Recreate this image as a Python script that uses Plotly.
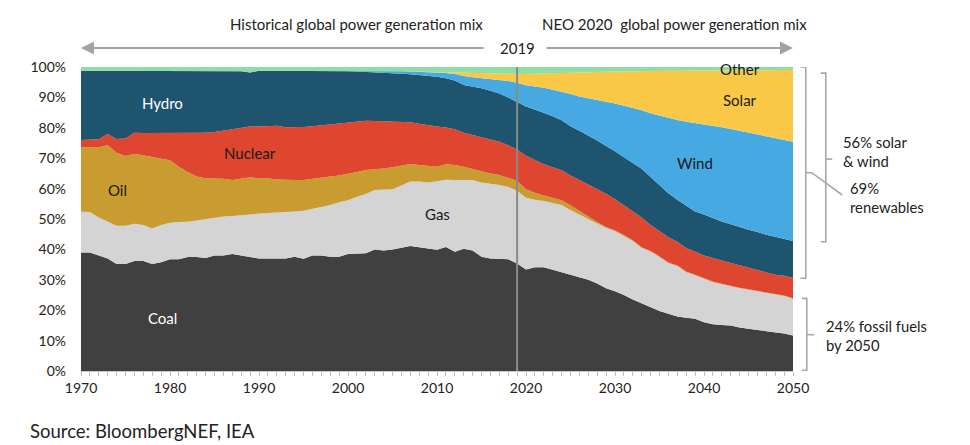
import plotly.graph_objects as go

years = list(range(1970, 2051))

coal = [39.0, 39.0, 38.0, 37.0, 35.2, 35.2, 36.2, 36.2, 35.2, 35.8,
        36.8, 36.8, 37.5, 37.5, 37.2, 38.0, 38.0, 38.5, 38.0, 37.5,
        37.0, 37.0, 37.0, 37.0, 37.6, 36.9, 38.0, 38.0, 37.6, 37.6,
        38.5, 38.7, 38.7, 40.0, 39.6, 40.0, 40.5, 41.1, 40.7, 40.2,
        39.9, 40.8, 39.2, 40.2, 39.6, 37.6, 37.0, 36.9, 36.8, 35.4,
        33.4, 34.1, 34.1, 33.3, 32.5, 31.8, 31.0, 30.0, 28.8, 27.2,
        26.2, 25.0, 23.5, 22.2, 20.8, 19.7, 18.8, 17.9, 17.5, 17.2,
        16.0, 15.4, 15.1, 15.0, 14.3, 14.0, 13.5, 13.1, 12.8, 12.3,
        11.7]

gas = [13.4, 13.3, 12.5, 12.2, 12.6, 12.6, 12.2, 11.8, 11.7, 12.2,
       12.0, 12.2, 11.6, 12.0, 12.7, 12.5, 12.8, 12.5, 13.3, 14.1,
       14.9, 15.0, 15.1, 15.2, 14.9, 15.8, 15.3, 16.0, 17.0, 17.9,
       17.7, 18.6, 19.5, 19.5, 20.0, 19.8, 20.5, 21.2, 21.6, 21.8,
       22.5, 22.1, 23.6, 22.7, 23.2, 24.4, 24.6, 24.3, 23.7, 23.9,
       23.6, 22.2, 21.8, 21.9, 22.1, 21.2, 20.5, 19.9, 19.7, 19.8,
       19.8, 19.5, 19.3, 18.3, 18.5, 17.8, 16.7, 16.6, 15.0, 14.3,
       14.3, 13.8, 13.4, 12.8, 12.9, 12.7, 12.7, 12.6, 12.4, 12.4,
       12.1]

oil = [21.1, 21.2, 23.1, 25.1, 24.0, 22.9, 23.0, 23.0, 23.4, 21.8,
       20.5, 18.2, 16.4, 14.5, 13.5, 12.9, 12.4, 11.8, 11.9, 12.1,
       11.5, 11.4, 10.9, 10.6, 10.3, 10.1, 9.9, 9.8, 9.4, 8.8,
       8.6, 8.2, 7.9, 6.8, 7.0, 7.2, 6.5, 5.8, 5.5, 5.4,
       4.8, 5.1, 5.0, 4.3, 3.7, 3.6, 3.4, 3.3, 3.1, 3.3,
       2.8, 2.3, 1.8, 1.8, 1.6, 1.5, 1.1, 0.8, 0.5, 0.4,
       0.3, 0.2, 0.2, 0.2, 0.2, 0.2, 0.2, 0.2, 0.2, 0.2,
       0.2, 0.2, 0.2, 0.2, 0.2, 0.2, 0.1, 0.1, 0.1, 0.1,
       0.1]

nuclear = [2.5, 2.5, 2.6, 3.7, 4.5, 5.8, 7.0, 7.3, 8.0, 8.5,
           9.0, 11.1, 12.8, 14.3, 15.0, 15.2, 15.8, 16.8, 16.8, 16.7,
           17.0, 17.2, 17.7, 17.4, 17.4, 17.5, 17.3, 17.0, 17.0, 16.9,
           16.7, 16.4, 16.2, 15.9, 15.5, 15.0, 14.5, 13.7, 13.5, 13.4,
           13.2, 12.1, 11.7, 11.2, 11.1, 11.2, 11.2, 10.9, 10.7, 10.3,
           11.0, 10.9, 10.3, 10.0, 9.8, 9.8, 10.2, 10.6, 10.8, 10.9,
           10.2, 9.8, 9.3, 9.8, 8.5, 8.3, 8.3, 7.8, 7.8, 7.5,
           7.5, 7.8, 7.6, 7.5, 7.4, 7.1, 6.9, 6.6, 6.4, 6.5,
           6.8]

hydro = [22.8, 22.8, 22.6, 20.8, 22.5, 22.3, 20.4, 20.5, 20.5, 20.5,
         20.5, 20.5, 20.5, 20.5, 20.4, 20.2, 19.8, 19.2, 18.6, 17.8,
         18.4, 18.2, 18.1, 18.6, 18.6, 18.5, 18.3, 18.0, 17.8, 17.6,
         17.1, 16.6, 16.1, 16.1, 16.1, 16.0, 15.8, 15.8, 16.1, 16.4,
         16.4, 16.2, 16.1, 15.7, 16.0, 16.2, 16.0, 15.9, 15.7, 15.7,
         16.2, 16.5, 17.0, 16.8, 16.5, 16.2, 16.2, 16.2, 16.0, 15.7,
         15.8, 15.8, 16.0, 16.0, 15.8, 15.0, 14.5, 13.8, 13.8, 13.3,
         13.5, 13.1, 12.9, 12.8, 12.5, 12.5, 12.5, 12.4, 12.5, 12.2,
         12.1]

wind = [0.0] * 30 + [
        0.2, 0.3, 0.4, 0.4, 0.5, 0.6, 0.8, 0.9, 1.0, 1.1,
        1.4, 1.7, 2.1, 2.9, 3.0, 3.3, 4.0, 4.6, 5.4, 6.2,
        7.0, 7.6, 8.2, 8.7, 9.4, 10.6, 11.3, 12.3, 13.4, 14.6,
        15.7, 17.0, 18.2, 19.3, 21.0, 23.0, 24.8, 26.3, 27.7, 29.1,
        29.7, 30.5, 31.0, 31.3, 31.7, 32.0, 32.1, 32.4, 32.4, 32.5,
        32.6]

solar = [0.0] * 38 + [
         0.1, 0.1,
         0.2, 0.3, 0.5, 1.1, 1.4, 1.6, 1.6, 1.8, 2.3, 2.9,
         3.7, 4.2, 4.7, 5.4, 6.1, 6.9, 7.8, 8.4, 9.1, 9.8,
         10.5, 11.2, 12.1, 12.8, 13.9, 14.7, 15.5, 16.2, 16.8, 17.3,
         17.7, 18.1, 18.7, 19.4, 20.0, 20.5, 21.2, 21.8, 22.4, 23.0,
         23.6]

other = [1.2] * 18 + [1.4, 1.8] + [1.2] * 13 + [
         1.3, 1.3, 1.4, 1.4, 1.5, 1.5, 1.6,
         1.6, 1.7, 1.8, 1.9, 2.0, 2.1, 2.2, 2.3, 2.3, 2.3,
         2.3, 2.2, 2.1, 2.1, 2.0, 2.0, 1.9, 1.8, 1.7, 1.6,
         1.5, 1.5, 1.4, 1.4, 1.3, 1.3, 1.2, 1.2, 1.2, 1.1,
         1.1, 1.1, 1.1, 1.0, 1.0, 1.0, 1.0, 1.0, 1.0, 1.0,
         1.0]

series = [
    ("Coal", coal, "#404040"),
    ("Gas", gas, "#d4d4d4"),
    ("Oil", oil, "#c89c30"),
    ("Nuclear", nuclear, "#df4630"),
    ("Hydro", hydro, "#1f546f"),
    ("Wind", wind, "#47a9e1"),
    ("Solar", solar, "#f8c846"),
    ("Other", other, "#8fdca5"),
]

# labels placed inside areas: (text, year, percent, colour)
area_labels = [
    ("Hydro", 1979.2, 88.2, "white"),
    ("Nuclear", 1989.0, 71.7, "#1a1a1a"),
    ("Oil", 1974.1, 59.5, "#1a1a1a"),
    ("Gas", 2010.1, 51.6, "#1a1a1a"),
    ("Coal", 1979.2, 17.4, "white"),
    ("Wind", 2039.0, 68.4, "#1a1a1a"),
    ("Solar", 2044.1, 89.1, "#1a1a1a"),
    ("Other", 2044.1, 99.3, "#1a1a1a"),
]

FONT = "Lato, 'Open Sans', sans-serif"
TXT = "#222222"

fig = go.Figure()
for name, vals, col in series:
    fig.add_trace(go.Scatter(
        x=years, y=vals, name=name, mode="lines", stackgroup="one",
        line=dict(width=0, color=col), fillcolor=col, hoverinfo="skip"))

# page offset (body margin) and plot geometry in window pixels
OFF = 8
L, R, T, B = 80.5, 792.7, 67.0, 371.0


def xp(px):
    return (px - L) / (R - L)


def yp(py):
    return (B - py) / (B - T)


def note(x, y, text, size, xanchor="center", xref="paper"):
    return dict(x=x, y=y, xref=xref, yref="paper", text=text, showarrow=False,
                xanchor=xanchor, yanchor="middle", align="left",
                font=dict(size=size, color=TXT, family=FONT))


annotations = []
for text, x, y, col in area_labels:
    annotations.append(dict(x=x, y=y, xref="x", yref="y", text=text, showarrow=False,
                            xanchor="center", yanchor="middle",
                            font=dict(size=15, color=col, family=FONT)))

annotations += [
    note(xp(356.5), yp(24), "Historical global power generation mix", 15),
    note(xp(674), yp(24), "NEO 2020  global power generation mix", 15),
    note(2019, yp(48), "2019", 15, xref="x"),
    dict(x=1970, y=yp(48), xref="x", yref="paper", text="", showarrow=True,
         ax=404, ay=0, axref="pixel", ayref="pixel", arrowhead=2, arrowsize=1.3,
         arrowwidth=2, arrowcolor="#a3a3a3"),
    dict(x=2050, y=yp(48), xref="x", yref="paper", text="", showarrow=True,
         ax=-248, ay=0, axref="pixel", ayref="pixel", arrowhead=2, arrowsize=1.3,
         arrowwidth=2, arrowcolor="#a3a3a3"),
    note(xp(841), yp(151), "56% solar<br>& wind", 14.8, xanchor="left"),
    note(xp(848), yp(197), "69%<br>renewables", 14.8, xanchor="left"),
    note(xp(824), yp(335.5), "24% fossil fuels<br>by 2050", 14.8, xanchor="left"),
    note(xp(27), yp(431), "Source: BloombergNEF, IEA", 18.5, xanchor="left"),
]

# bracket extents from 2050 data
fossil50 = coal[-1] + gas[-1] + oil[-1]
nonren50 = fossil50 + nuclear[-1]
hyd50 = nonren50 + hydro[-1]
sw50 = hyd50 + wind[-1] + solar[-1]

BR = "#a8a8a8"


def bracket(x_in, x_out, y0, y1):
    return f"M {xp(x_in)},{y0} L {xp(x_out)},{y0} L {xp(x_out)},{y1} L {xp(x_in)},{y1}"


mid_sw = (sw50 + hyd50) / 2 - 1.2
shapes = [
    dict(type="line", x0=2019, x1=2019, y0=0, y1=1, xref="x", yref="paper",
         line=dict(color="#8a8a8a", width=2)),
    dict(type="path", xref="paper", yref="y", path=bracket(800, 805.5, 100, nonren50 - 0.2),
         line=dict(color=BR, width=1.6)),
    dict(type="path", xref="paper", yref="y", path=bracket(820.5, 825.5, sw50 - 1.0, hyd50 - 0.3),
         line=dict(color=BR, width=1.6)),
    dict(type="line", xref="paper", yref="y", x0=xp(825.5), x1=xp(832),
         y0=mid_sw, y1=mid_sw, line=dict(color=BR, width=1.6)),
    dict(type="path", xref="paper", yref="paper",
         path=f"M {xp(805.5)},{yp(172.7)} L {xp(811.5)},{yp(172.7)} L {xp(842)},{yp(195)}",
         line=dict(color=BR, width=1.6)),
    dict(type="path", xref="paper", yref="y", path=bracket(801.5, 806.5, fossil50, 0.2),
         line=dict(color=BR, width=1.6)),
    dict(type="line", xref="paper", yref="y", x0=xp(806.5), x1=xp(814),
         y0=fossil50 / 2, y1=fossil50 / 2, line=dict(color=BR, width=1.6)),
]

W, H = 970 - OFF, 445 - OFF
ml, mt = L - OFF, T - OFF
mr = W - ml - (R - L)
mb = H - mt - (B - T)

fig.update_layout(
    width=W, height=H,
    margin=dict(l=ml, r=mr, t=mt, b=mb, pad=0),
    paper_bgcolor="white", plot_bgcolor="white",
    showlegend=False,
    font=dict(family=FONT, color=TXT, size=13),
    annotations=annotations,
    shapes=shapes,
    xaxis=dict(range=[1970, 2050], tickvals=list(range(1970, 2051, 10)),
               ticks="outside", ticklen=4, tickcolor="#bdbdbd", tickwidth=1,
               minor=dict(dtick=1, ticks="outside", ticklen=4, tickcolor="#bdbdbd", tickwidth=1),
               showline=True, linecolor="#c8c8c8", linewidth=1, showgrid=False, zeroline=False,
               tickfont=dict(size=14, color=TXT, family=FONT)),
    yaxis=dict(range=[0, 100], tickvals=list(range(0, 101, 10)),
               ticktext=[f"{v}%" for v in range(0, 101, 10)],
               showgrid=False, zeroline=False, showline=False, ticks="",
               ticklabelstandoff=14,
               tickfont=dict(size=14, color=TXT, family=FONT)),
)

fig.write_html("out.html")
